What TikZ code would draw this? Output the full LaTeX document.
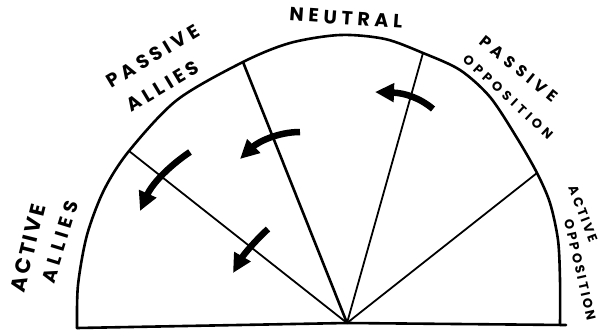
\documentclass[tikz,border=0pt]{standalone}
\usepackage{fontspec}
\setmainfont{Poppins}
\usetikzlibrary{arrows.meta}
\newcommand{\lblfont}[2]{\fontsize{#1}{#1}\selectfont\bfseries\addfontfeature{LetterSpace=#2}}
\begin{document}
\begin{tikzpicture}[x=1pt,y=-1pt,
  outline/.style={line width=2.6pt, line join=round, line cap=round},
  spoke/.style={line width=1.8pt, line cap=round},
  push/.style={line width=6.5pt, -{Triangle[length=19pt,width=18pt]}},
  lbl/.style={inner sep=0pt}]
\useasboundingbox (0,0) rectangle (599,334);
% outline points
\coordinate (L0) at (77,328);
\coordinate (s1) at (129,151);
\coordinate (s2) at (243,62);
\coordinate (s3) at (423,53);
\coordinate (s4) at (537,173);
\coordinate (R0) at (560,325);
\coordinate (Rx) at (566,325);
\coordinate (hub) at (347,323);
% arc
\draw[outline] plot[smooth, tension=0.5] coordinates {(L0) (78,285) (87,235) (104,190) (s1) (177,100) (s2) (290,43) (340,35) (385,39) (s3) (460,70) (490,97) (517,138) (s4) (550,203) (558,240) (560,280) (R0)};
\draw[outline] (L0) -- (hub) -- (Rx);
% spokes
\draw[spoke] (hub) -- (s1);
\draw[spoke, line width=2.6pt] (hub) -- (s2);
\draw[spoke] (hub) -- (s3);
\draw[spoke] (hub) -- (s4);
% arrows
\coordinate (a1t) at (433,109); \coordinate (a1h) at (375,92);
\coordinate (a2t) at (300,132); \coordinate (a2h) at (240,159);
\coordinate (a3t) at (190,152); \coordinate (a3h) at (140,211);
\coordinate (a4t) at (268,229); \coordinate (a4h) at (233,273);
\draw[push] (a1t) .. controls (420,98) and (405,93) .. (a1h);
\draw[push] (a2t) .. controls (278,132) and (258,142) .. (a2h);
\draw[push] (a3t) .. controls (172,164) and (153,182) .. (a3h);
\draw[push] (a4t) .. controls (256,240) and (244,254) .. (a4h);
% labels
\node[lbl, rotate=31, font=\lblfont{19}{22}] (pa1) at (153,56) {PASSIVE};
\node[lbl, rotate=31, font=\lblfont{19}{22}] (pa2) at (163,86) {ALLIES};
\node[lbl, rotate=-4, font=\lblfont{19}{25}] (neu) at (346,18) {NEUTRAL};
\node[lbl, rotate=-39, font=\lblfont{16}{30}] (po1) at (519,69) {PASSIVE};
\node[lbl, rotate=-43, font=\lblfont{13}{32}] (po2) at (508,97) {OPPOSITION};
\node[lbl, rotate=-69, font=\lblfont{13}{18}] (ao1) at (583,214) {ACTIVE};
\node[lbl, rotate=-77, font=\lblfont{13}{20}] (ao2) at (580,270) {OPPOSITION};
\node[lbl, rotate=76, font=\lblfont{21}{12}] (aa1) at (28,248) {ACTIVE};
\node[lbl, rotate=73, font=\lblfont{19}{26}] (aa2) at (60,242) {ALLIES};
\end{tikzpicture}
\end{document}
